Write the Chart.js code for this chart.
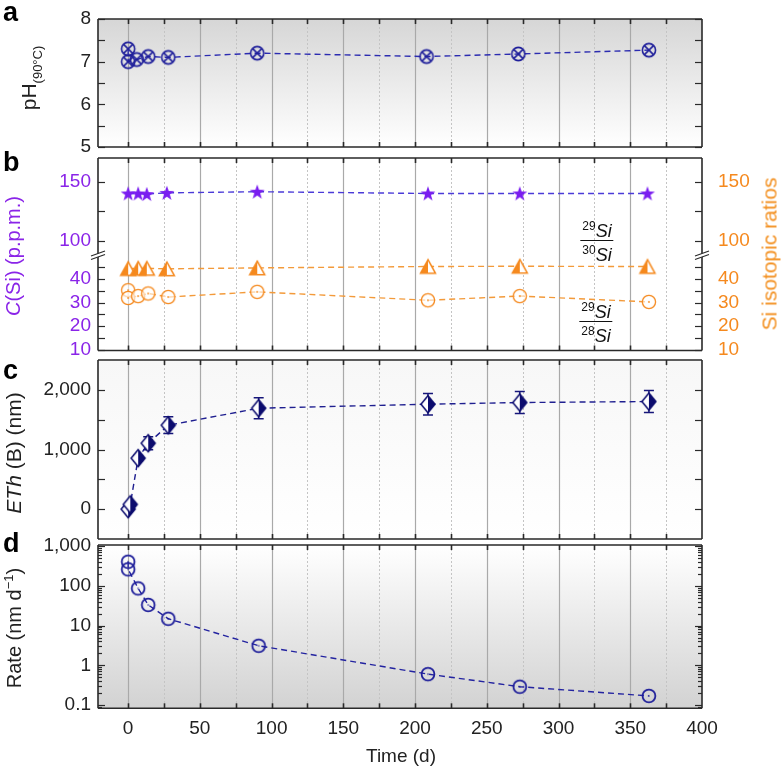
<!DOCTYPE html>
<html><head><meta charset="utf-8">
<script src="https://cdn.jsdelivr.net/npm/chart.js@4.4.1/dist/chart.umd.min.js"></script>
<style>
html,body{margin:0;padding:0;background:#fff;}
body{width:781px;height:767px;overflow:hidden;position:relative;font-family:"Liberation Sans",Arial,sans-serif;color:#222;}
canvas{position:absolute;left:0;top:0;}
.t{position:absolute;white-space:nowrap;line-height:1;}
.c{transform:translate(-50%,-50%);}
.r{transform:translate(-50%,-50%) rotate(-90deg);}
.lt{font-weight:bold;font-size:27px;color:#000;}
.fr{display:inline-flex;flex-direction:column;align-items:center;font-size:18px;color:#111;}
.fr span{padding:0 2px;}
.fr .d{border-top:1.3px solid #111;padding-top:3px;}
.fr sup{font-size:12px;}
</style></head><body>
<canvas id="ca" width="781" height="767"></canvas>
<canvas id="cbu" width="781" height="767"></canvas>
<canvas id="cbl" width="781" height="767"></canvas>
<canvas id="cc" width="781" height="767"></canvas>
<canvas id="cd" width="781" height="767"></canvas>

<div class="t lt" style="left:3px;top:-1px;">a</div>
<div class="t lt" style="left:3px;top:149px;">b</div>
<div class="t lt" style="left:3px;top:357px;">c</div>
<div class="t lt" style="left:3px;top:530px;">d</div>

<div class="t r" style="left:31px;top:78px;font-size:21px;">pH<sub style="font-size:13px;">(90°C)</sub></div>
<div class="t r" style="left:13px;top:256px;font-size:20px;color:#8a24e8;"><i>C</i>(Si) (p.p.m.)</div>
<div class="t r" style="left:769px;top:254px;font-size:21px;color:#f39020;">Si isotopic ratios</div>
<div class="t r" style="left:13px;top:453px;font-size:21px;"><i>ETh</i> (B) (nm)</div>
<div class="t r" style="left:13px;top:628px;font-size:20px;">Rate (nm d<sup style="font-size:13px;">−1</sup>)</div>
<div class="t c" style="left:401px;top:755px;font-size:19px;">Time (d)</div>

<div class="t c" style="left:597px;top:242px;"><div class="fr"><span><sup>29</sup><i>Si</i></span><span class="d"><sup>30</sup><i>Si</i></span></div></div>
<div class="t c" style="left:596px;top:323px;"><div class="fr"><span><sup>29</sup><i>Si</i></span><span class="d"><sup>28</sup><i>Si</i></span></div></div>

<script>
// ---------------- data ----------------
const timeTickValues = [0, 50, 100, 150, 200, 250, 300, 350, 400];
const timeTickLabels = ['0', '50', '100', '150', '200', '250', '300', '350', '400'];
const timeGridMajor = [0, 50, 100, 150, 200, 250, 300, 350];
const timeGridMinor = [25, 75, 125, 175, 225, 275, 325, 375];

// a: pH (90 °C)
const phDays = [0, 0, 6, 14, 28, 90, 208, 272, 363];
const phValues = [7.3, 7.0, 7.05, 7.12, 7.1, 7.2, 7.12, 7.18, 7.27];
const phTicks = [5, 6, 7, 8];
const phLabels = ['5', '6', '7', '8'];
const phMinor = [5.5, 6.5, 7.5];

// b: C(Si) and Si isotopic ratios
const siDays = [0, 7, 13, 27, 90, 209, 273, 362];
const siConc = [140, 140, 139.5, 140.5, 141.5, 140, 140, 140];
const ratio2930 = [44.5, 44.6, 44.6, 44.4, 44.8, 45.4, 45.5, 45.4];
const ratio2928Days = [0, 0, 7, 14, 28, 90, 209, 273, 363];
const ratio2928 = [35.3, 32.0, 32.8, 33.9, 32.4, 34.6, 31.0, 32.8, 30.3];
const bUpperTicks = [100, 150];
const bUpperLabels = ['100', '150'];
const bUpperMinor = [125];
const bLowerTicks = [10, 20, 30, 40];
const bLowerLabels = ['10', '20', '30', '40'];
const bLowerMinor = [15, 25, 35, 45];

// c: ETh(B)
const ethDays = [0, 1.5, 7, 14, 28, 91, 209, 273, 363];
const ethValues = [0, 80, 855, 1105, 1407, 1692, 1759, 1787, 1804];
const ethErrors = [20, 30, 45, 110, 140, 175, 180, 185, 185];
const ethTicks = [0, 1000, 2000];
const ethLabels = ['0', '1,000', '2,000'];
const ethMinor = [500, 1500];

// d: rate
const rateDays = [0, 0, 7, 14, 28, 91, 209, 273, 363];
const rateValues = [403, 259, 86, 33, 14.8, 3.1, 0.6, 0.29, 0.17];
const rateTicks = [0.1, 1, 10, 100, 1000];
const rateLabels = ['0.1', '1', '10', '100', '1,000'];

// ---------------- styling helpers ----------------
const FONT = "'Liberation Sans', Arial, sans-serif";
const NAVY = '#1e1e9a';
const DNAVY = '#0c0c6e';
const PURPLE = '#7a1df0';
const ORANGE = '#f5891e';

function makeMarker(w, h, draw) {
  const c = document.createElement('canvas');
  c.width = w; c.height = h;
  draw(c.getContext('2d'), w / 2, h / 2);
  return c;
}
const mOtimes = makeMarker(18, 18, (g, cx, cy) => {
  const r = 6.6, d = r * 0.707;
  g.strokeStyle = NAVY; g.lineWidth = 1.6;
  g.beginPath(); g.arc(cx, cy, r, 0, 2 * Math.PI); g.stroke();
  g.beginPath(); g.moveTo(cx - d, cy - d); g.lineTo(cx + d, cy + d);
  g.moveTo(cx + d, cy - d); g.lineTo(cx - d, cy + d); g.stroke();
});
const mStar = makeMarker(20, 20, (g, cx, cy) => {
  g.fillStyle = PURPLE; g.beginPath();
  for (let i = 0; i < 10; i++) {
    const r = i % 2 ? 3.1 : 7.8, a = -Math.PI / 2 + i * Math.PI / 5;
    g.lineTo(cx + r * Math.cos(a), cy + 0.6 + r * Math.sin(a));
  }
  g.closePath(); g.fill();
});
const mTri = makeMarker(20, 18, (g, cx, cy) => {
  const hw = 7.5, top = cy - 6.8, bot = cy + 6.8;
  g.fillStyle = '#fff';
  g.beginPath(); g.moveTo(cx, top); g.lineTo(cx + hw, bot); g.lineTo(cx, bot); g.closePath(); g.fill();
  g.fillStyle = ORANGE;
  g.beginPath(); g.moveTo(cx, top); g.lineTo(cx - hw, bot); g.lineTo(cx, bot); g.closePath(); g.fill();
  g.strokeStyle = ORANGE; g.lineWidth = 1.5; g.lineJoin = 'miter';
  g.beginPath(); g.moveTo(cx, top); g.lineTo(cx + hw, bot); g.lineTo(cx - hw, bot); g.closePath(); g.stroke();
});
const mOdotOrange = makeMarker(18, 18, (g, cx, cy) => {
  g.strokeStyle = ORANGE; g.lineWidth = 1.3;
  g.fillStyle = 'rgba(255,255,255,0.6)';
  g.beginPath(); g.arc(cx, cy, 6.6, 0, 2 * Math.PI); g.fill(); g.stroke();
  g.fillStyle = ORANGE; g.beginPath(); g.arc(cx, cy, 0.9, 0, 2 * Math.PI); g.fill();
});
const mDiamond = makeMarker(18, 22, (g, cx, cy) => {
  const hw = 7, hh = 8.5;
  g.fillStyle = '#fff';
  g.beginPath(); g.moveTo(cx, cy - hh); g.lineTo(cx - hw, cy); g.lineTo(cx, cy + hh); g.closePath(); g.fill();
  g.fillStyle = DNAVY;
  g.beginPath(); g.moveTo(cx, cy - hh); g.lineTo(cx + hw, cy); g.lineTo(cx, cy + hh); g.closePath(); g.fill();
  g.strokeStyle = DNAVY; g.lineWidth = 1.5;
  g.beginPath(); g.moveTo(cx, cy - hh); g.lineTo(cx + hw, cy); g.lineTo(cx, cy + hh); g.lineTo(cx - hw, cy); g.closePath(); g.stroke();
});
const mOdotNavy = makeMarker(18, 18, (g, cx, cy) => {
  g.strokeStyle = NAVY; g.lineWidth = 1.8;
  g.beginPath(); g.arc(cx, cy, 6.4, 0, 2 * Math.PI); g.stroke();
  g.fillStyle = NAVY; g.beginPath(); g.arc(cx, cy, 0.8, 0, 2 * Math.PI); g.fill();
});

// ---------------- frame plugin ----------------
const framePlugin = {
  id: 'frame',
  beforeDatasetsDraw(chart, args, o) {
    const { ctx, chartArea: a, scales } = chart;
    const x = scales.x, y = scales.y;
    ctx.save();
    if (Array.isArray(o.bg)) {
      const gr = ctx.createLinearGradient(0, a.top, 0, a.bottom);
      gr.addColorStop(0, o.bg[0]); gr.addColorStop(1, o.bg[1]);
      ctx.fillStyle = gr;
    } else ctx.fillStyle = o.bg || '#fff';
    ctx.fillRect(a.left, a.top, a.width, a.height);
    ctx.lineWidth = 1.2; ctx.strokeStyle = '#a9a9a9'; ctx.setLineDash([]);
    timeGridMajor.forEach(v => {
      const px = Math.round(x.getPixelForValue(v)) + 0.5;
      ctx.beginPath(); ctx.moveTo(px, a.top); ctx.lineTo(px, a.bottom); ctx.stroke();
    });
    ctx.lineWidth = 1; ctx.strokeStyle = '#c4c4c4'; ctx.setLineDash([2, 2]);
    timeGridMinor.forEach(v => {
      const px = Math.round(x.getPixelForValue(v)) + 0.5;
      ctx.beginPath(); ctx.moveTo(px, a.top); ctx.lineTo(px, a.bottom); ctx.stroke();
    });
    ctx.setLineDash([]);
    if (o.errors) {
      const e = o.errors;
      ctx.strokeStyle = e.color; ctx.lineWidth = 1.5;
      e.x.forEach((d, i) => {
        const px = x.getPixelForValue(d);
        const p1 = y.getPixelForValue(e.y[i] + e.err[i]);
        const p2 = y.getPixelForValue(e.y[i] - e.err[i]);
        ctx.beginPath();
        ctx.moveTo(px, p1); ctx.lineTo(px, p2);
        ctx.moveTo(px - 5, p1); ctx.lineTo(px + 5, p1);
        ctx.moveTo(px - 5, p2); ctx.lineTo(px + 5, p2);
        ctx.stroke();
      });
    }
    ctx.restore();
  },
  afterDraw(chart, args, o) {
    const { ctx, chartArea: a, scales } = chart;
    const x = scales.x, y = scales.y;
    ctx.save();
    ctx.strokeStyle = '#2a2a2a'; ctx.lineWidth = 1.2;
    const xt = timeGridMajor.concat(timeGridMinor);
    xt.forEach(v => {
      const px = Math.round(x.getPixelForValue(v)) + 0.5;
      ctx.lineWidth = 1.6;
      if (o.sides.top) { ctx.beginPath(); ctx.moveTo(px, a.top); ctx.lineTo(px, a.top + 5); ctx.stroke(); }
      if (o.sides.bottom) { ctx.beginPath(); ctx.moveTo(px, a.bottom); ctx.lineTo(px, a.bottom - 5); ctx.stroke(); }
    });
    ctx.lineWidth = 1.2;
    const yt = (vals, len) => vals.forEach(v => {
      const py = Math.round(y.getPixelForValue(v)) + 0.5;
      if (py < a.top - 0.5 || py > a.bottom + 0.5) return;
      ctx.beginPath(); ctx.moveTo(a.left, py); ctx.lineTo(a.left + len, py); ctx.stroke();
      ctx.beginPath(); ctx.moveTo(a.right, py); ctx.lineTo(a.right - len, py); ctx.stroke();
    });
    yt(o.yMajor, 7);
    yt(o.yMinor || [], o.minorLen || 7);
    ctx.strokeStyle = '#2a2a2a'; ctx.lineWidth = 1.6;
    ctx.beginPath();
    if (o.sides.top) { ctx.moveTo(a.left, a.top); ctx.lineTo(a.right, a.top); }
    if (o.sides.bottom) { ctx.moveTo(a.left, a.bottom); ctx.lineTo(a.right, a.bottom); }
    ctx.moveTo(a.left, a.top); ctx.lineTo(a.left, a.bottom);
    ctx.moveTo(a.right, a.top); ctx.lineTo(a.right, a.bottom);
    ctx.stroke();
    if (o.breakMark) {
      [a.left, a.right].forEach(bx => {
        const by = a.top;
        ctx.fillStyle = '#fff';
        ctx.beginPath();
        ctx.moveTo(bx - 7, by + 1); ctx.lineTo(bx + 7, by - 4);
        ctx.lineTo(bx + 7, by - 0.5); ctx.lineTo(bx - 7, by + 4.5); ctx.closePath(); ctx.fill();
        ctx.lineWidth = 1.2; ctx.strokeStyle = '#2a2a2a';
        ctx.beginPath();
        ctx.moveTo(bx - 7, by + 1); ctx.lineTo(bx + 7, by - 4);
        ctx.moveTo(bx - 7, by + 4.5); ctx.lineTo(bx + 7, by - 0.5);
        ctx.stroke();
      });
    }
    ctx.restore();
  }
};

// ---------------- chart factory ----------------
function makeChart(id, cfg) {
  const tickFont = { size: 19, family: FONT };
  const scales = {
    x: {
      type: 'linear', min: -21, max: 400, display: !!cfg.showX,
      afterBuildTicks: s => { s.ticks = timeTickValues.map(v => ({ value: v })); },
      ticks: { callback: (v, i) => timeTickLabels[i], font: { size: 19, family: FONT }, color: '#222', padding: 9, maxRotation: 0, autoSkip: false },
      grid: { display: false, drawTicks: false }, border: { display: false },
      afterFit: s => { s.height = cfg.showX ? 40 : 0; }
    },
    y: {
      type: cfg.yType || 'linear', position: 'left', min: cfg.min, max: cfg.max,
      afterBuildTicks: s => { s.ticks = cfg.yTicks.map(v => ({ value: v })); },
      ticks: { callback: (v, i) => cfg.yLabels[i], font: tickFont, color: cfg.leftColor || '#222', padding: 7, autoSkip: false },
      grid: { display: false, drawTicks: false }, border: { display: false },
      afterFit: s => { s.width = 98; }
    },
    y2: {
      type: cfg.yType || 'linear', position: 'right', min: cfg.min, max: cfg.max,
      afterBuildTicks: s => { s.ticks = cfg.yTicks.map(v => ({ value: v })); },
      ticks: { display: !!cfg.rightLabels, callback: (v, i) => cfg.yLabels[i], font: tickFont, color: cfg.rightColor || '#222', padding: 16, autoSkip: false },
      grid: { display: false, drawTicks: false }, border: { display: false },
      afterFit: s => { s.width = 79; }
    }
  };
  return new Chart(document.getElementById(id), {
    type: 'line',
    data: { datasets: cfg.datasets },
    options: {
      responsive: false, animation: false, devicePixelRatio: 1,
      layout: { padding: { left: 0, right: 0, top: cfg.top, bottom: cfg.bottom } },
      plugins: { legend: { display: false }, tooltip: { enabled: false }, frame: cfg.frame },
      scales
    },
    plugins: [framePlugin]
  });
}

function series(xs, ys, color, marker) {
  return {
    data: xs.map((d, i) => ({ x: d, y: ys[i] })),
    showLine: true, borderColor: color, borderWidth: 1.4, borderDash: [6, 4],
    pointStyle: marker, pointRadius: 6, pointHoverRadius: 6, clip: false, tension: 0, fill: false
  };
}

// a
makeChart('ca', {
  top: 19, bottom: 767 - 147, min: 5, max: 8, yTicks: phTicks, yLabels: phLabels,
  datasets: [series(phDays, phValues, '#2b2bb0', mOtimes)],
  frame: { bg: ['#d6d6d6', '#ffffff'], sides: { top: true, bottom: true }, yMajor: phTicks, yMinor: phMinor }
});
// b upper
makeChart('cbu', {
  top: 158, bottom: 767 - 255, min: 88, max: 170, yTicks: bUpperTicks, yLabels: bUpperLabels,
  leftColor: '#8a24e8', rightColor: ORANGE, rightLabels: true,
  datasets: [series(siDays, siConc, '#4a3ad8', mStar)],
  frame: { bg: '#ffffff', sides: { top: true, bottom: false }, yMajor: bUpperTicks, yMinor: bUpperMinor }
});
// b lower
makeChart('cbl', {
  top: 255, bottom: 767 - 350.5, min: 9.6, max: 50.3, yTicks: bLowerTicks, yLabels: bLowerLabels,
  leftColor: '#8a24e8', rightColor: ORANGE, rightLabels: true,
  datasets: [series(siDays, ratio2930, '#f39a3a', mTri), series(ratio2928Days, ratio2928, '#f39a3a', mOdotOrange)],
  frame: { bg: '#ffffff', sides: { top: false, bottom: true }, yMajor: bLowerTicks, yMinor: bLowerMinor, breakMark: true }
});
// c
makeChart('cc', {
  top: 360, bottom: 767 - 539, min: -500, max: 2500, yTicks: ethTicks, yLabels: ethLabels,
  datasets: [series(ethDays, ethValues, '#1f1f90', mDiamond)],
  frame: { bg: ['#f7f7f7', '#ffffff'], sides: { top: true, bottom: true }, yMajor: ethTicks, yMinor: ethMinor,
           errors: { x: ethDays, y: ethValues, err: ethErrors, color: '#16167a' } }
});
// d
const rateMinor = [];
for (let dec = 0.01; dec < 1000; dec *= 10) {
  for (let k = 2; k <= 9; k++) { const v = +(dec * k).toPrecision(3); if (v > 0.083 && v < 1060) rateMinor.push(v); }
}
makeChart('cd', {
  top: 545, bottom: 767 - 708.3 - 40, min: 0.083, max: 1060, yType: 'logarithmic', yTicks: rateTicks, yLabels: rateLabels,
  showX: true,
  datasets: [series(rateDays, rateValues, '#2323a0', mOdotNavy)],
  frame: { bg: ['#ffffff', '#d2d2d2'], sides: { top: true, bottom: true }, yMajor: rateTicks, yMinor: rateMinor, minorLen: 4 }
});
</script>
</body></html>
